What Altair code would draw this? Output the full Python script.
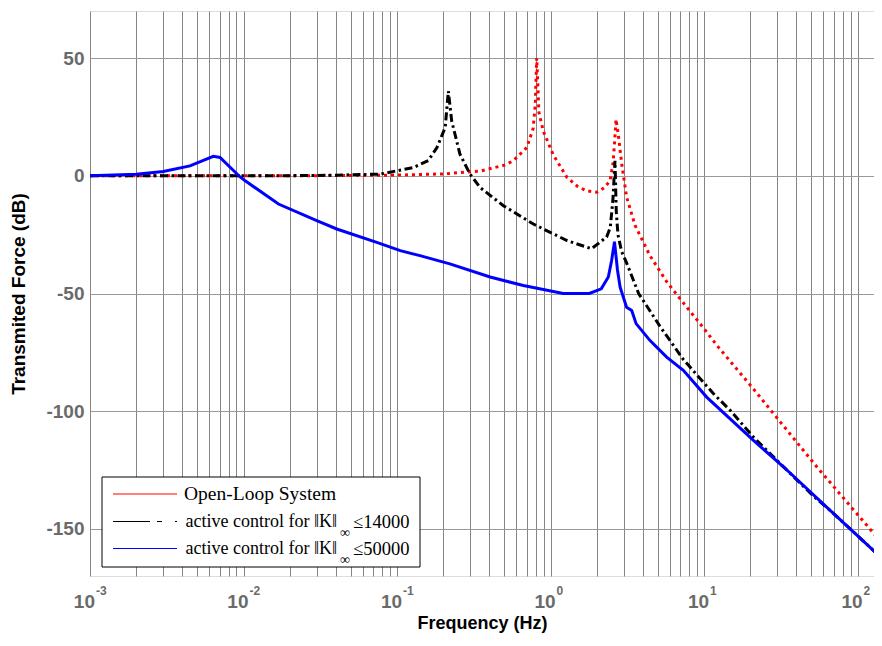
import altair as alt
import pandas as pd

# ---------------- data ----------------
red_f = [0.001, 0.01, 0.05, 0.1, 0.2, 0.348, 0.5, 0.573, 0.70, 0.77, 0.795, 0.813,
         0.84, 0.897, 1.04, 1.28, 1.5, 1.72, 2.0, 2.25, 2.44, 2.55, 2.62, 2.67,
         2.77, 2.91, 3.13, 3.55, 4.45, 5.71, 7.33, 9.42, 12.4, 20.9, 54.2, 140]
red_db = [0, 0, 0.1, 0.3, 0.8, 2, 4.5, 6.4, 12, 20, 30, 50,
          27, 19, 9, -0.7, -4.5, -6.4, -7, -5, -2, 5, 15, 24,
          17, 5, -9, -21, -34, -45, -54, -62.8, -72.8, -90.4, -123.6, -155]

black_f = [0.001, 0.01, 0.03, 0.0774, 0.128, 0.16, 0.182, 0.206, 0.216, 0.227,
           0.257, 0.299, 0.348, 0.493, 0.773, 1.28, 1.85, 2.32, 2.45, 2.55, 2.63,
           2.68, 2.75, 2.9, 3.13, 3.75, 5.17, 7.33, 11.5, 14.8, 20.9, 31.3, 51.5,
           69.6, 140]
black_db = [0, 0, 0.1, 0.7, 3.5, 6.5, 12, 20.5, 36, 23.3,
            9.2, 0.7, -5, -12.7, -20.5, -27.5, -31, -26, -22, -10, 6.4,
            -15, -25, -32, -37, -50, -64, -78, -92.5, -99.6, -110.9, -122.2, -136,
            -143.4, -161.7]

blue_f = [0.001, 0.002, 0.003, 0.00448, 0.00636, 0.00703, 0.0095, 0.0102, 0.0169,
          0.030, 0.0405, 0.0738, 0.105, 0.141, 0.221, 0.404, 0.665, 1.21, 1.79,
          2.14, 2.38, 2.5, 2.61, 2.73, 2.84, 3.13, 3.38, 3.61, 4.45, 5.71, 7.33,
          10.4, 20.9, 32.9, 69.6, 140]
blue_db = [0, 0.7, 1.8, 4.2, 8.3, 7.8, -0.5, -2, -12,
           -19, -22.6, -28.3, -31.8, -33.9, -37.4, -43, -46.6, -50, -50,
           -48, -43, -36, -28, -40, -47.3, -55.8, -57.2, -62.8, -70, -77, -82.6,
           -94, -112.3, -123.6, -143.4, -161.7]

decades = [0.001, 0.01, 0.1, 1, 10, 100]
exponents = ["-3", "-2", "-1", "0", "1", "2"]
y_ticks = [-150, -100, -50, 0, 50]
X_MAX = 128
grid_x = [m * d for d in [0.001, 0.01, 0.1, 1, 10, 100] for m in range(1, 10) if m * d <= X_MAX]

legend_labels = ["Open-Loop System", "active control for \u2016K\u2016", "active control for \u2016K\u2016"]
legend_bounds = ["", "\u226414000", "\u226450000"]

# ---------------- chart ----------------
W, H = 784, 565
xscale = alt.Scale(type="log", domain=[0.001, X_MAX], nice=False)
yscale = alt.Scale(domain=[-170, 70], nice=False)
SANS = "Liberation Sans, Arial, Helvetica, sans-serif"
SERIF = "Liberation Serif, Times New Roman, serif"

def series(f, db, name):
    return pd.DataFrame({"f": f, "db": db, "s": name})

df_red = series(red_f, red_db, "open")
df_black = series(black_f, black_db, "k14")
df_blue = series(blue_f, blue_db, "k50")

base_x = alt.X("f:Q", scale=xscale,
               axis=alt.Axis(values=grid_x, labels=False, ticks=False, domain=False,
                             grid=True, gridColor="#858585", gridWidth=1,
                             title="Frequency  (Hz)", titleFont=SANS, titleFontSize=18,
                             titleFontWeight="bold", titleColor="#000",
                             titleY=47, titleBaseline="middle"))
base_y = alt.Y("db:Q", scale=yscale,
               axis=alt.Axis(values=y_ticks, grid=True, gridColor="#9a9a9a", gridWidth=1,
                             ticks=False, domain=False, labelPadding=6,
                             labelFont=SANS, labelFontSize=19, labelFontWeight="bold",
                             labelColor="#6a6a6a", labelExpr="datum.value + ''",
                             title="Transmited Force (dB)", titleFont=SANS, titleFontSize=19,
                             titleFontWeight="bold", titleColor="#000",
                             titleX=-72, titleBaseline="middle"))

red = alt.Chart(df_red).mark_line(color="#ff0000", strokeWidth=3, strokeDash=[3, 4],
                                  strokeCap="butt", clip=True).encode(x=base_x, y=base_y)
black = alt.Chart(df_black).mark_line(color="#000000", strokeWidth=3,
                                      strokeDash=[8, 3.5, 2.5, 3.5], strokeCap="butt",
                                      clip=True).encode(x=alt.X("f:Q"), y=alt.Y("db:Q"))
blue = alt.Chart(df_blue).mark_line(color="#0000ff", strokeWidth=3, clip=True).encode(
    x=alt.X("f:Q"), y=alt.Y("db:Q"))

df_ticks = pd.DataFrame({"f": decades, "base": ["10"] * len(decades), "exp": exponents})
tick_base = alt.Chart(df_ticks).mark_text(align="right", baseline="alphabetic", dx=5,
                                          font=SANS, fontSize=19, fontWeight="bold",
                                          color="#6a6a6a").encode(
    x=alt.X("f:Q"), y=alt.value(H + 32), text="base:N")
tick_exp = alt.Chart(df_ticks).mark_text(align="left", baseline="alphabetic", dx=6,
                                         font=SANS, fontSize=12, fontWeight="bold",
                                         color="#6a6a6a").encode(
    x=alt.X("f:Q"), y=alt.value(H + 19), text="exp:N")

one = pd.DataFrame({"a": [0]})
leg_box = alt.Chart(one).mark_rect(fill="white", stroke="#000", strokeWidth=1).encode(
    x=alt.value(12), x2=alt.value(330), y=alt.value(466), y2=alt.value(556))

rows_y = [483, 510.5, 537.5]
colors = ["#ff0000", "#000000", "#0000ff"]
dashes = [[1, 0], [37, 7, 5, 13, 3, 60], [1, 0]]
leg_layers = [leg_box]
for i in range(3):
    leg_layers.append(alt.Chart(one).mark_rule(color=colors[i], strokeWidth=1.2,
                                               strokeDash=dashes[i]).encode(
        x=alt.value(23), x2=alt.value(87), y=alt.value(rows_y[i])))
leg_layers.append(alt.Chart(one).mark_text(align="left", baseline="middle", font=SERIF,
                                           fontSize=19.5, color="#000").encode(
    x=alt.value(94), y=alt.value(rows_y[0]), text=alt.value(legend_labels[0])))
for i in [1, 2]:
    leg_layers.append(alt.Chart(one).mark_text(align="right", baseline="middle", font=SERIF,
                                               fontSize=18, color="#000").encode(
        x=alt.value(247), y=alt.value(rows_y[i]), text=alt.value(legend_labels[i])))
    leg_layers.append(alt.Chart(one).mark_text(align="center", baseline="middle", font=SERIF,
                                               fontSize=14, color="#000").encode(
        x=alt.value(255), y=alt.value(rows_y[i] + 11), text=alt.value("\u221e")))
    leg_layers.append(alt.Chart(one).mark_text(align="left", baseline="middle", font=SERIF,
                                               fontSize=18.5, color="#000").encode(
        x=alt.value(263), y=alt.value(rows_y[i]), text=alt.value(legend_bounds[i])))

chart = alt.layer(red, black, blue, tick_base, tick_exp, *leg_layers).properties(
    width=W, height=H,
    autosize=alt.AutoSizeParams(type="none"),
    padding={"left": 82, "top": 3, "right": 0, "bottom": 57},
).configure_view(stroke="#6e6e6e", strokeWidth=1).configure(background="white")

chart.save("out.html", embed_options={"renderer": "svg", "actions": False})
